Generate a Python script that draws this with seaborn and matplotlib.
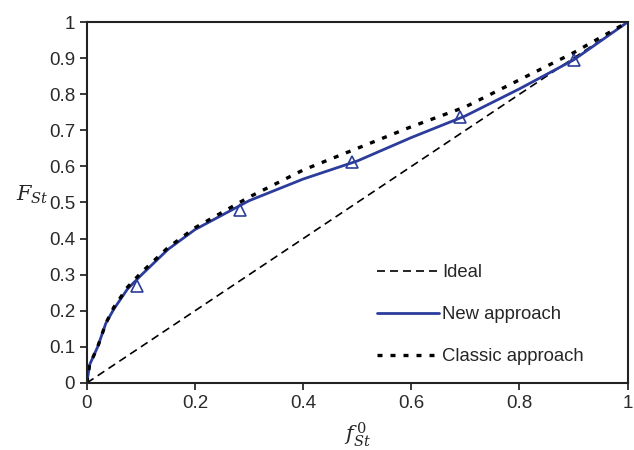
import numpy as np
import pandas as pd
import matplotlib
matplotlib.use("Agg")
import matplotlib.pyplot as plt
import seaborn as sns

# values
f0 = [0, 0.005, 0.02, 0.035, 0.05, 0.075, 0.1, 0.15, 0.2, 0.3, 0.4, 0.5, 0.6, 0.7, 0.8, 0.9, 1.0]
new_approach = [0, 0.05, 0.10, 0.165, 0.205, 0.26, 0.298, 0.37, 0.425, 0.505, 0.565, 0.615,
                0.68, 0.74, 0.815, 0.895, 1.0]
classic_approach = [0, 0.05, 0.10, 0.165, 0.21, 0.265, 0.305, 0.375, 0.43, 0.515, 0.59, 0.65,
                    0.71, 0.765, 0.84, 0.915, 1.0]
ideal_x = [0, 1]
ideal_y = [0, 1]
tri_x = [0.092, 0.284, 0.49, 0.69, 0.90]
tri_y = [0.27, 0.48, 0.612, 0.737, 0.895]

sns.set_style("ticks")
plt.rcParams['font.family'] = ['Liberation Sans', 'DejaVu Sans']
plt.rcParams['mathtext.fontset'] = 'dejavuserif'

blue = '#2b3c9b'

fig = plt.figure(figsize=(6.34, 4.5), dpi=100)
ax = fig.add_axes([0.137, 0.149, 0.853, 0.802])

df = pd.DataFrame({'f0': f0, 'new': new_approach, 'classic': classic_approach})

sns.lineplot(x=ideal_x, y=ideal_y, ax=ax, color='black', lw=1.2,
             dashes=False, label='Ideal')
ax.lines[-1].set_dashes((4.8, 3))
sns.lineplot(data=df, x='f0', y='new', ax=ax, color=blue, lw=2.0, label='New approach')
sns.lineplot(data=df, x='f0', y='classic', ax=ax, color='black', lw=2.4,
             label='Classic approach')
ax.lines[-1].set_dashes((1.5, 2.4))
ax.plot(tri_x, tri_y, ls='none', marker='^', ms=9, mfc='none', mec=blue, mew=1.2)

ax.set_xlim(0, 1)
ax.set_ylim(0, 1)
ax.set_xticks(np.arange(0, 1.01, 0.2))
ax.set_xticklabels(['0', '0.2', '0.4', '0.6', '0.8', '1'])
ax.set_yticks(np.arange(0, 1.01, 0.1))
ax.set_yticklabels(['0'] + ['%.1f' % v for v in np.arange(0.1, 0.95, 0.1)] + ['1'])
ax.tick_params(direction='out', length=5, width=1.3, labelsize=13.5, colors='#2a2a2a')

for s in ax.spines.values():
    s.set_visible(True)
    s.set_linewidth(1.5)
    s.set_color('#222222')

ax.set_xlabel(r'$f^{\,0}_{St}$', fontsize=15, labelpad=6)
ax.set_ylabel(r'$F_{St}$', fontsize=15, rotation=0, labelpad=8)
ax.yaxis.set_label_coords(-0.1, 0.49)

ax.legend(loc='upper left', bbox_to_anchor=(0.505, 0.375), frameon=False,
          fontsize=13.3, handlelength=3.4, handletextpad=0.15, labelspacing=1.35)

fig.savefig('out.png', dpi=100)
